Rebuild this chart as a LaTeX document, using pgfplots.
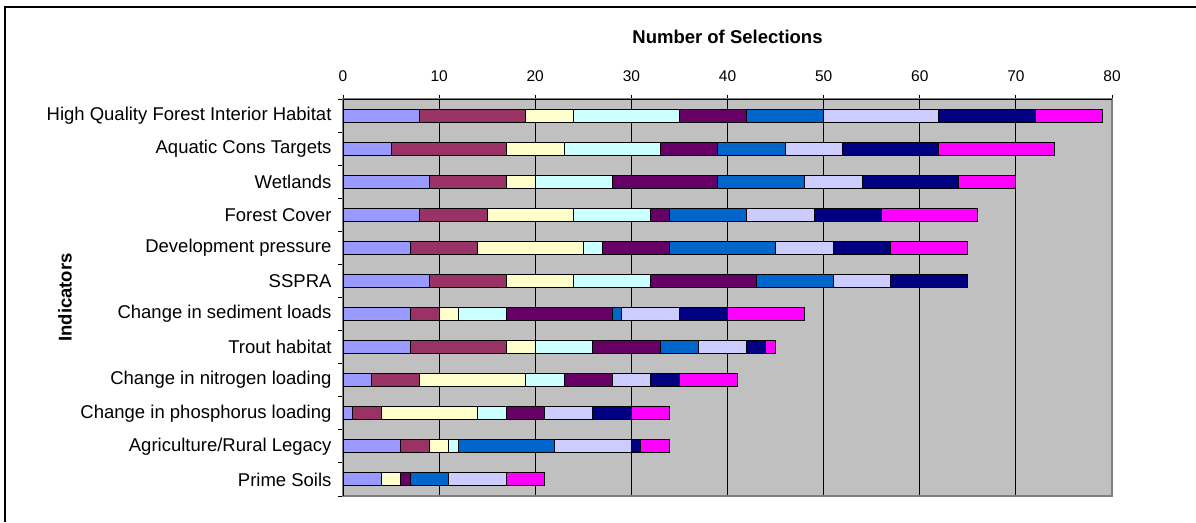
\documentclass[border=0pt]{standalone}
\usepackage{pgfplots}
\usepackage{pgfplotstable}
\pgfplotsset{compat=1.18}
\usepackage{fontspec}
\setmainfont{Liberation Sans}
\definecolor{cA}{HTML}{9999FF}
\definecolor{cB}{HTML}{993366}
\definecolor{cC}{HTML}{FFFFCC}
\definecolor{cD}{HTML}{CCFFFF}
\definecolor{cE}{HTML}{660066}
\definecolor{cF}{HTML}{0066CC}
\definecolor{cG}{HTML}{CCCCFF}
\definecolor{cH}{HTML}{000080}
\definecolor{cI}{HTML}{FF00FF}
\definecolor{bgray}{HTML}{C0C0C0}
\definecolor{lgray}{HTML}{808080}
\pgfplotstableread{
y  a  b  c  d  e  f  g  h  i
0  8  11 5  11 7  8  12 10 7
1  5  12 6  10 6  7  6  10 12
2  9  8  3  8  11 9  6  10 6
3  8  7  9  8  2  8  7  7  10
4  7  7  11 2  7  11 6  6  8
5  9  8  7  8  11 8  6  8  0
6  7  3  2  5  11 1  6  5  8
7  7  10 3  6  7  4  5  2  1
8  3  5  11 4  5  0  4  3  6
9  1  3  10 3  4  0  5  4  4
10 6  3  2  1  0  10 8  1  3
11 4  0  2  0  1  4  6  0  4
}\datatable
\begin{document}
\begin{tikzpicture}[x=1pt,y=1pt]
\path[use as bounding box] (0,0) rectangle (1196,522);
\draw[line width=1.3pt] (5,0) -- (5,515) -- (1196,515);
\begin{axis}[
  at={(343pt,26pt)}, anchor=south west,
  width=769pt, height=397pt, scale only axis,
  xbar stacked, bar width=13pt,
  xmin=0, xmax=80, ymin=-0.5, ymax=11.5,
  y dir=reverse,
  axis background/.style={fill=bgray},
  axis line style={draw=lgray, line width=1.2pt},
  xtick={0,10,...,80},
  xtick pos=upper, xticklabel pos=upper,
  tick align=outside,
  major tick length=4pt,
  minor tick length=5pt,
  tick style={black, line width=1pt},
  xmajorgrids, major grid style={black, line width=0.9pt},
  ytick={0,...,11},
  ytick pos=left,
  major y tick style={draw=none},
  minor ytick={-0.5,0.5,...,11.5},
  yticklabels={High Quality Forest Interior Habitat, Aquatic Cons Targets, Wetlands, Forest Cover, Development pressure, SSPRA, Change in sediment loads, Trout habitat, Change in nitrogen loading, Change in phosphorus loading, Agriculture/Rural Legacy, Prime Soils},
  yticklabel style={font=\fontsize{18.5}{20}\selectfont, xshift=-4pt},
  xticklabel style={font=\fontsize{15.5}{17}\selectfont, yshift=10pt},
  /pgf/number format/assume math mode=true,
  xlabel={Number of Selections},
  xlabel style={font=\bfseries\fontsize{18.5}{20}\selectfont, at={(axis description cs:0.5,1)}, anchor=center, yshift=62pt},
  ylabel={Indicators},
  ylabel style={font=\bfseries\fontsize{18.5}{20}\selectfont, at={(axis description cs:0,0.5)}, anchor=center, yshift=278pt},
  every axis plot/.append style={draw=black, line width=1pt},
]
\addplot[fill=cA] table[x=a,y=y]{\datatable};
\addplot[fill=cB] table[x=b,y=y]{\datatable};
\addplot[fill=cC] table[x=c,y=y]{\datatable};
\addplot[fill=cD] table[x=d,y=y]{\datatable};
\addplot[fill=cE] table[x=e,y=y]{\datatable};
\addplot[fill=cF] table[x=f,y=y]{\datatable};
\addplot[fill=cG] table[x=g,y=y]{\datatable};
\addplot[fill=cH] table[x=h,y=y]{\datatable};
\addplot[fill=cI] table[x=i,y=y]{\datatable};
\draw[black, line width=1.4pt] (axis description cs:0,0) -- (axis description cs:0,1) -- (axis description cs:1,1);
\end{axis}
\end{tikzpicture}
\end{document}
